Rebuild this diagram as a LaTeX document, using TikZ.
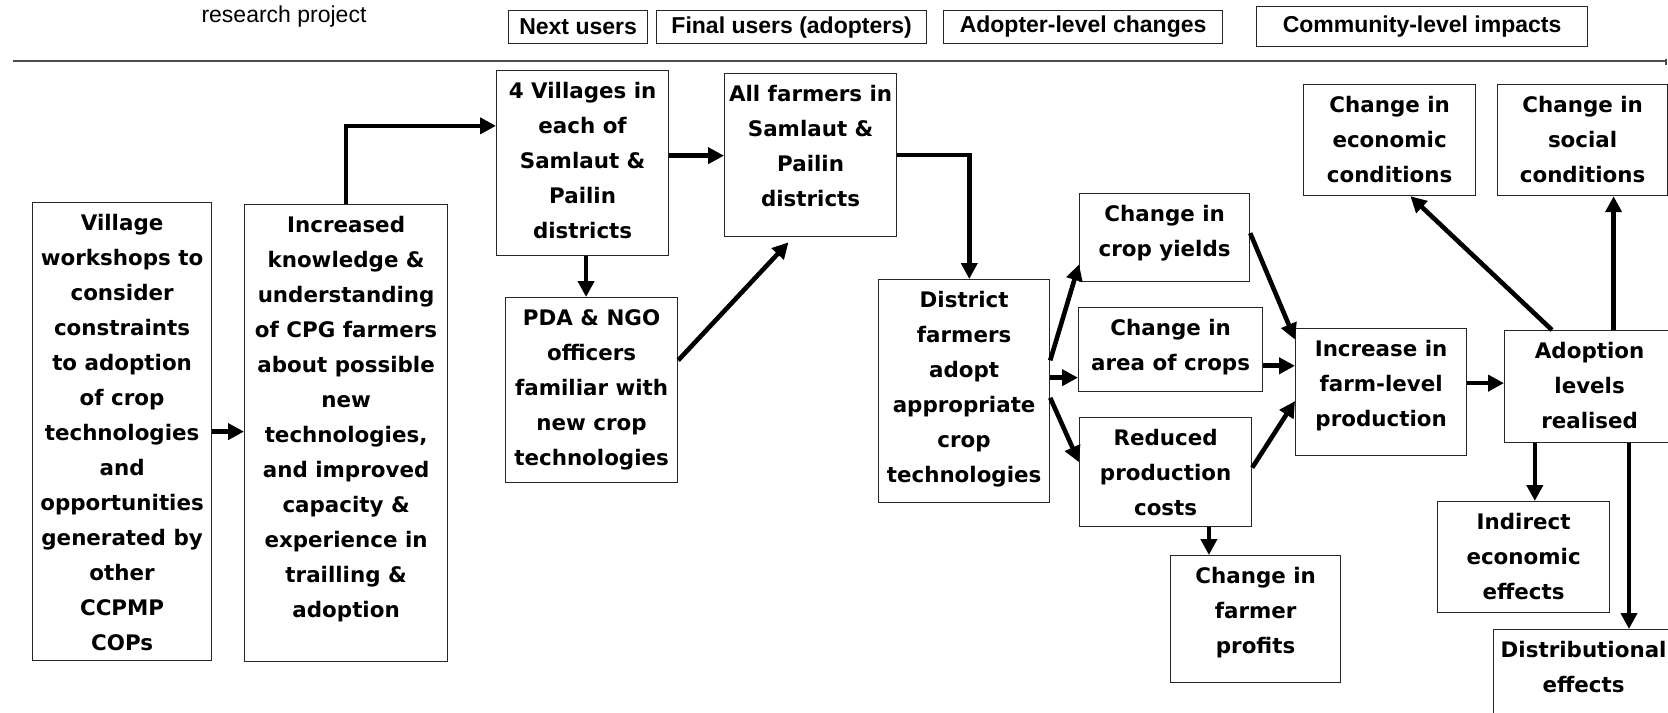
\documentclass[tikz,border=0pt]{standalone}
\usepackage{fontspec}
\setmainfont{DejaVu Sans}
\newfontfamily\headfont{Liberation Sans}
\usetikzlibrary{arrows.meta,calc}

\newlength{\pxu}
\setlength{\pxu}{0.5pt}
\newcommand{\cellfont}{\fontsize{10.7pt}{17.5pt}\selectfont\bfseries}
% top aligned text block: width, height (px), lines
\newcommand{\cellbox}[3]{\parbox[c][#2\pxu][t]{#1\pxu}{\cellfont\centering\rule{0pt}{13.8pt}#3}}

\tikzset{
    % Box styles
    cell/.style={draw=black!85, line width=0.6pt, fill=white, inner sep=0pt, anchor=north west},
    head/.style={draw=black!85, line width=0.6pt, inner sep=0pt, anchor=north west,
        font=\headfont\bfseries\fontsize{11.5pt}{13pt}\selectfont},
    % Arrow style - bold
    flow/.style={-{Triangle[length=8pt,width=8pt]}, line width=2.3pt},
    % Header line
    divider/.style={line width=0.8pt, black!70},
}

\begin{document}
\begin{tikzpicture}[x=0.5pt, y=-0.5pt]
    \useasboundingbox (0,0) rectangle (1668,712);

    % Header
    \node[font=\headfont\fontsize{11.5pt}{13pt}\selectfont] (proj) at (284,17) {research project};
    \node[head, minimum width=69.5pt, minimum height=16.5pt] (nextu) at (508,10) {Next users};
    \node[head, minimum width=135pt, minimum height=16.5pt] (finalu) at (656,10) {Final users (adopters)};
    \node[head, minimum width=139.5pt, minimum height=16.5pt] (adoptc) at (943,10) {Adopter-level changes};
    \node[head, minimum width=165.5pt, minimum height=20pt] (commu) at (1256,6) {Community-level impacts};
    \draw[divider] (13,61) -- (1665,61);
    \draw[divider] (1666,59) -- (1666,65);

    % Research project side
    \node[cell] (vill) at (32,202) {\cellbox{179}{458}{Village\\workshops to\\consider\\constraints\\to adoption\\of crop\\technologies\\and\\opportunities\\generated by\\other\\CCPMP\\COPs}};
    \node[cell] (incr) at (244,204) {\cellbox{203}{457}{Increased\\knowledge \&\\understanding\\of CPG farmers\\about possible\\new\\technologies,\\and improved\\capacity \&\\experience in\\trailling \&\\adoption}};

    % Users
    \node[cell] (vil4) at (496,70) {\cellbox{172}{185}{4 Villages in\\each of\\Samlaut \&\\Pailin\\districts}};
    \node[cell] (pda) at (505,297) {\cellbox{172}{185}{PDA \& NGO\\officers\\familiar with\\new crop\\technologies}};
    \node[cell] (allf) at (724,73) {\cellbox{172}{163}{All farmers in\\Samlaut \&\\Pailin\\districts}};
    \node[cell] (dist) at (878,279) {\cellbox{171}{223}{District\\farmers\\adopt\\appropriate\\crop\\technologies}};

    % Adopter-level changes
    \node[cell] (crop) at (1079,193) {\cellbox{170}{88}{Change in\\crop yields}};
    \node[cell] (area) at (1078,307) {\cellbox{184}{84}{Change in\\area of crops}};
    \node[cell] (redu) at (1079,417) {\cellbox{172}{109}{Reduced\\production\\costs}};
    \node[cell] (prof) at (1170,555) {\cellbox{170}{127}{Change in\\farmer\\profits}};
    \node[cell] (incp) at (1295,328) {\cellbox{171}{127}{Increase in\\farm-level\\production}};

    % Community-level impacts
    \node[cell] (adop) at (1504,330) {\cellbox{170}{112}{Adoption\\levels\\realised}};
    \node[cell] (econ) at (1303,84) {\cellbox{172}{111}{Change in\\economic\\conditions}};
    \node[cell] (soci) at (1497,84) {\cellbox{170}{111}{Change in\\social\\conditions}};
    \node[cell] (indi) at (1437,501) {\cellbox{172}{111}{Indirect\\economic\\effects}};
    \node[cell] (dstr) at (1493,629) {\cellbox{180}{110}{Distributional\\effects}};

    % Points on the box edges
    \coordinate (v4w) at ($(vil4.north west)!0.30!(vil4.south west)$);
    \coordinate (v4e) at ($(vil4.north east)!0.46!(vil4.south east)$);
    \coordinate (v4s) at ($(vil4.south west)!0.52!(vil4.south east)$);
    \coordinate (pdae) at ($(pda.north east)!0.34!(pda.south east)$);
    \coordinate (afs) at ($(allf.south west)!0.40!(allf.south east)$);
    \coordinate (dn) at ($(dist.north west)!0.53!(dist.north east)$);
    \coordinate (de1) at ($(dist.north east)!0.363!(dist.south east)$);
    \coordinate (de2) at ($(dist.north east)!0.44!(dist.south east)$);
    \coordinate (de3) at ($(dist.north east)!0.53!(dist.south east)$);
    \coordinate (cw) at ($(crop.north west)!0.80!(crop.south west)$);
    \coordinate (rw) at ($(redu.north west)!0.41!(redu.south west)$);
    \coordinate (ce) at ($(crop.north east)!0.45!(crop.south east)$);
    \coordinate (ae) at ($(area.north east)!0.69!(area.south east)$);
    \coordinate (re) at ($(redu.north east)!0.46!(redu.south east)$);
    \coordinate (rs) at ($(redu.south west)!0.75!(redu.south east)$);
    \coordinate (iw1) at ($(incp.north west)!0.09!(incp.south west)$);
    \coordinate (iw2) at ($(incp.north west)!0.57!(incp.south west)$);
    \coordinate (ie) at ($(incp.north east)!0.43!(incp.south east)$);
    \coordinate (an1) at ($(adop.north west)!0.28!(adop.north east)$);
    \coordinate (an2) at ($(adop.north west)!0.64!(adop.north east)$);
    \coordinate (as1) at ($(adop.south west)!0.18!(adop.south east)$);
    \coordinate (as2) at ($(adop.south west)!0.73!(adop.south east)$);
    \coordinate (es) at ($(econ.south west)!0.62!(econ.south east)$);

    % Arrows
    \draw[flow] (vill.east) -- (vill.east -| incr.west);
    \draw[flow] (incr.north) |- (v4w);
    \draw[flow] (v4e) -- (v4e -| allf.west);
    \draw[flow] (v4s) -- (v4s |- pda.north);
    \draw[flow, shorten >=3.5pt] (pdae) -- (afs);
    \draw[flow] (allf.east) -| (dn);
    \draw[flow] (de1) -- (cw);
    \draw[flow] (de2) -- (de2 -| area.west);
    \draw[flow] (de3) -- (rw);
    \draw[flow] (ce) -- (iw1);
    \draw[flow] (ae) -- (ae -| incp.west);
    \draw[flow] (re) -- (iw2);
    \draw[flow] (rs) -- (rs |- prof.north);
    \draw[flow] (ie) -- (ie -| adop.west);
    \draw[flow] (an1) -- (es);
    \draw[flow] (an2) -- (an2 |- soci.south);
    \draw[flow] (as1) -- (as1 |- indi.north);
    \draw[flow] (as2) -- (as2 |- dstr.north);
\end{tikzpicture}
\end{document}
